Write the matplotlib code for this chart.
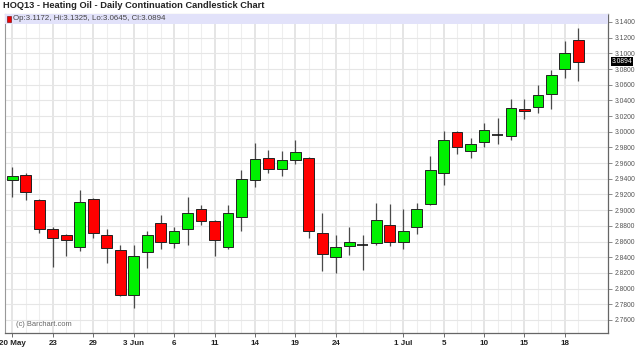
import matplotlib
matplotlib.use("Agg")
import matplotlib.pyplot as plt
from matplotlib.patches import Rectangle

plt.rcParams['font.family'] = ['Liberation Sans', 'DejaVu Sans']

# trading days shown on the chart
dates = ['05-20', '05-21', '05-22', '05-23', '05-24', '05-28', '05-29', '05-30', '05-31',
         '06-03', '06-04', '06-05', '06-06', '06-07', '06-10', '06-11', '06-12', '06-13',
         '06-14', '06-17', '06-18', '06-19', '06-20', '06-21', '06-24', '06-25', '06-26',
         '06-27', '06-28', '07-01', '07-02', '07-03', '07-05', '07-08', '07-09', '07-10',
         '07-11', '07-12', '07-15', '07-16', '07-17', '07-18', '07-19']

opens = [2.939, 2.945, 2.913, 2.876, 2.868, 2.853, 2.914, 2.868, 2.849, 2.792, 2.846,
         2.883, 2.858, 2.876, 2.902, 2.886, 2.853, 2.891, 2.939, 2.967, 2.952, 2.964,
         2.967, 2.871, 2.840, 2.854, 2.856, 2.858, 2.881, 2.860, 2.878, 2.908, 2.948,
         3.000, 2.975, 2.987, 2.996, 2.995, 3.029, 3.031, 3.048, 3.080, 3.1172]
highs = [2.955, 2.948, 2.914, 2.879, 2.869, 2.926, 2.915, 2.876, 2.856, 2.856, 2.874,
         2.894, 2.879, 2.917, 2.907, 2.888, 2.907, 2.951, 2.986, 2.977, 2.975, 2.990,
         2.968, 2.897, 2.868, 2.879, 2.868, 2.909, 2.908, 2.902, 2.909, 2.969, 3.001,
         3.001, 2.992, 3.011, 3.017, 3.042, 3.042, 3.060, 3.079, 3.116, 3.1325]
lows = [2.917, 2.913, 2.871, 2.827, 2.842, 2.848, 2.865, 2.832, 2.791, 2.775, 2.826,
        2.851, 2.852, 2.856, 2.881, 2.841, 2.851, 2.873, 2.929, 2.948, 2.943, 2.959,
        2.865, 2.823, 2.820, 2.843, 2.824, 2.856, 2.854, 2.850, 2.869, 2.907, 2.932,
        2.971, 2.967, 2.980, 2.985, 2.990, 3.016, 3.024, 3.029, 3.069, 3.0645]
closes = [2.944, 2.923, 2.876, 2.864, 2.862, 2.911, 2.871, 2.852, 2.792, 2.841, 2.868,
          2.859, 2.873, 2.896, 2.886, 2.862, 2.897, 2.940, 2.965, 2.953, 2.964, 2.974,
          2.873, 2.844, 2.853, 2.859, 2.856, 2.887, 2.859, 2.874, 2.901, 2.951, 2.990,
          2.980, 2.985, 3.002, 2.996, 3.030, 3.027, 3.047, 3.072, 3.101, 3.0894]

tick_dates = ['05-20', '05-23', '05-29', '06-03', '06-06', '06-11', '06-14', '06-19',
              '06-24', '07-01', '07-05', '07-10', '07-15', '07-18']
tick_labels = ['20 May', '23', '29', '3 Jun', '6', '11', '14', '19',
               '24', '1 Jul', '5', '10', '15', '18']

yticks = [round(2.76 + 0.02 * i, 2) for i in range(20)]

fig = plt.figure(figsize=(6.4, 3.63), dpi=100)
ax = fig.add_axes([5 / 640, 30 / 363, 603 / 640, 319 / 363])

x = list(range(len(dates)))
tick_pos = [dates.index(d) for d in tick_dates]

# grid
for i in x:
    if i in tick_pos:
        ax.axvline(i, color='#dedede', lw=1.1, zorder=0)
    else:
        ax.axvline(i, color='#eeeeee', lw=0.8, zorder=0)
for v in yticks:
    ax.axhline(v, color='#e6e6e6', lw=0.8, zorder=0)

# candles
w = 0.8
for i, o, h, l, c in zip(x, opens, highs, lows, closes):
    ax.vlines(i, l, h, color='#4a4a4a', lw=0.9, zorder=2)
    if abs(c - o) < 1e-6:
        ax.hlines(o, i - w / 2, i + w / 2, color='#111111', lw=1.2, zorder=3)
        continue
    col = '#00f000' if c > o else '#ff0000'
    ax.bar(i, abs(c - o), w, bottom=min(o, c), color=col, edgecolor='#222222',
           lw=0.7, zorder=3)

ax.set_xlim(-0.55, 44.2)
ax.set_ylim(2.7433, 3.1502)

# header band with last bar values
ax.add_patch(Rectangle((0, 1 - 10 / 319), 1, 10 / 319, transform=ax.transAxes,
                       facecolor='#e2e2fa', edgecolor='none', zorder=4))
ax.add_patch(Rectangle((0.004, 1 - 8 / 319), 4 / 603, 5.5 / 319, transform=ax.transAxes,
                       facecolor='#ee0000', edgecolor='#660000', lw=0.4, zorder=5))
ax.text(0.014, 1 - 5 / 319, 'Op:3.1172, Hi:3.1325, Lo:3.0645, Cl:3.0894',
        transform=ax.transAxes, fontsize=5.7, color='#444444', va='center', zorder=5)

ax.text(0.018, 8 / 319, '(c) Barchart.com', transform=ax.transAxes,
        fontsize=5.4, color='#666666', va='center')

# axes styling
ax.yaxis.tick_right()
ax.set_yticks(yticks)
ax.set_yticklabels(['%.4f' % v for v in yticks])
ax.tick_params(axis='y', labelsize=4.9, labelcolor='#555555', color='#777777',
               length=3, width=0.6, pad=1.5)
ax.set_xticks(tick_pos)
ax.set_xticklabels(tick_labels)
ax.tick_params(axis='x', labelsize=5.8, labelcolor='#222222', color='#555555',
               length=3, width=0.6, pad=2)
for lab in ax.get_xticklabels():
    lab.set_fontweight('bold')
for s in ['left', 'top']:
    ax.spines[s].set_color('#999999')
    ax.spines[s].set_linewidth(0.8)
for s in ['right', 'bottom']:
    ax.spines[s].set_color('#666666')
    ax.spines[s].set_linewidth(0.9)

# last price tag
ax.text(1.006, 3.0894, '3.0894', transform=ax.get_yaxis_transform(), fontsize=4.9,
        color='white', va='center', ha='left',
        bbox=dict(facecolor='black', edgecolor='none', pad=0.8), zorder=6)

fig.text(3 / 640, 1 - 6 / 363, 'HOQ13 - Heating Oil - Daily Continuation Candlestick Chart',
         fontsize=6.7, fontweight='bold', color='#222222', va='center', ha='left')

fig.savefig('out.png', dpi=100)
